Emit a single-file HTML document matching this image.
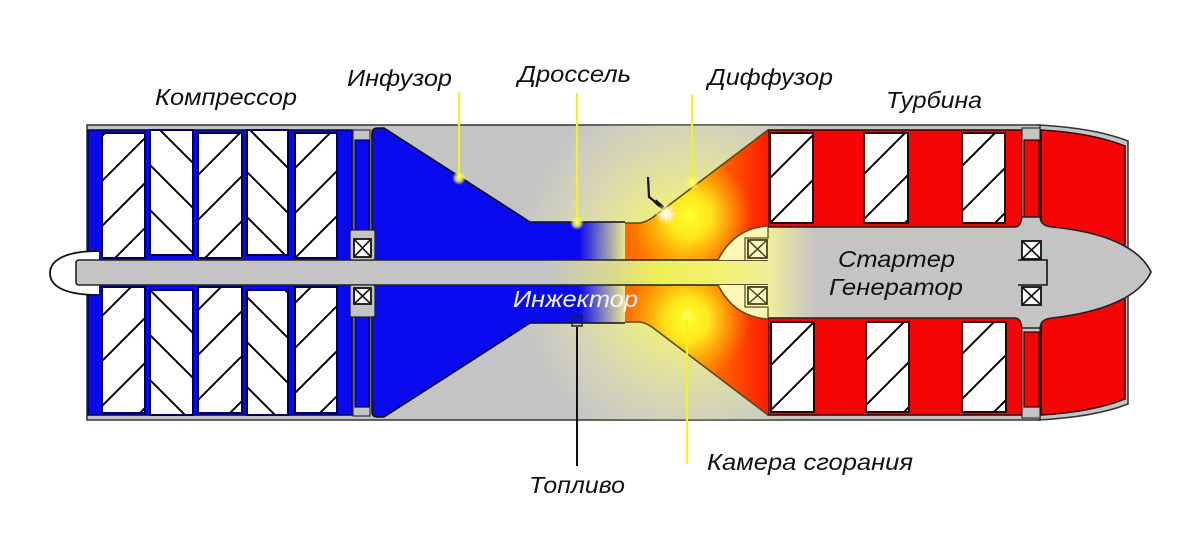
<!DOCTYPE html>
<html><head><meta charset="utf-8">
<style>
html,body{margin:0;padding:0;background:#fff;}
svg{display:block;}
text{font-family:"Liberation Sans","DejaVu Sans",sans-serif;font-style:italic;font-size:23px;fill:#111;}
</style></head><body>
<svg width="1200" height="545" viewBox="0 0 1200 545" xmlns="http://www.w3.org/2000/svg">
<defs>
  <pattern id="ps" width="45" height="45" patternUnits="userSpaceOnUse" patternTransform="translate(13,0)">
    <path d="M-5,5 L5,-5 M0,45 L45,0 M40,50 L50,40" stroke="#000" stroke-width="2"/>
  </pattern>
  <pattern id="pbt" width="45" height="45" patternUnits="userSpaceOnUse" patternTransform="translate(0,15)">
    <path d="M0,0 L45,45 M-5,40 L5,50 M40,-5 L50,5" stroke="#000" stroke-width="2"/>
  </pattern>
  <pattern id="pbb" width="45" height="45" patternUnits="userSpaceOnUse" patternTransform="translate(0,5)">
    <path d="M0,0 L45,45 M-5,40 L5,50 M40,-5 L50,5" stroke="#000" stroke-width="2"/>
  </pattern>
  <pattern id="pt1" width="45" height="45" patternUnits="userSpaceOnUse" patternTransform="translate(3,0)">
    <path d="M-5,5 L5,-5 M0,45 L45,0 M40,50 L50,40" stroke="#000" stroke-width="2"/>
  </pattern>
  <pattern id="pt2" width="45" height="45" patternUnits="userSpaceOnUse" patternTransform="translate(11,0)">
    <path d="M-5,5 L5,-5 M0,45 L45,0 M40,50 L50,40" stroke="#000" stroke-width="2"/>
  </pattern>

  <radialGradient id="glow" gradientUnits="userSpaceOnUse" cx="0" cy="0" r="1" gradientTransform="translate(690,270) scale(175,195)">
    <stop offset="0" stop-color="#ffff40" stop-opacity="0.95"/>
    <stop offset="0.35" stop-color="#ffff60" stop-opacity="0.7"/>
    <stop offset="0.7" stop-color="#ffff90" stop-opacity="0.3"/>
    <stop offset="1" stop-color="#ffffb0" stop-opacity="0"/>
  </radialGradient>

  <linearGradient id="infG" gradientUnits="userSpaceOnUse" x1="372" y1="0" x2="625" y2="0">
    <stop offset="0" stop-color="#0a0aee" stop-opacity="1"/>
    <stop offset="0.82" stop-color="#0a0aee" stop-opacity="1"/>
    <stop offset="1" stop-color="#3030d0" stop-opacity="0"/>
  </linearGradient>

  <linearGradient id="combG" gradientUnits="userSpaceOnUse" x1="625" y1="0" x2="768" y2="0">
    <stop offset="0" stop-color="#ff6a00"/>
    <stop offset="0.4" stop-color="#ff9800"/>
    <stop offset="0.75" stop-color="#ff5200"/>
    <stop offset="1" stop-color="#ff1a00"/>
  </linearGradient>

  <radialGradient id="ySpot" cx="0.5" cy="0.5" r="0.5">
    <stop offset="0" stop-color="#ffff30" stop-opacity="1"/>
    <stop offset="0.35" stop-color="#fff020" stop-opacity="0.9"/>
    <stop offset="1" stop-color="#ffb000" stop-opacity="0"/>
  </radialGradient>

  <radialGradient id="spark" cx="0.5" cy="0.5" r="0.5">
    <stop offset="0" stop-color="#ffffff" stop-opacity="1"/>
    <stop offset="0.4" stop-color="#fff8d0" stop-opacity="0.8"/>
    <stop offset="1" stop-color="#ffe080" stop-opacity="0"/>
  </radialGradient>

  <radialGradient id="dotG" cx="0.5" cy="0.5" r="0.5">
    <stop offset="0" stop-color="#ffffb0" stop-opacity="1"/>
    <stop offset="0.5" stop-color="#ffff40" stop-opacity="0.8"/>
    <stop offset="1" stop-color="#ffff40" stop-opacity="0"/>
  </radialGradient>

  <linearGradient id="shaftG" gradientUnits="userSpaceOnUse" x1="76" y1="0" x2="768" y2="0">
    <stop offset="0" stop-color="#c4c4c4"/>
    <stop offset="0.68" stop-color="#c4c4c4"/>
    <stop offset="0.77" stop-color="#d8d890"/>
    <stop offset="0.84" stop-color="#eeee5a"/>
    <stop offset="0.93" stop-color="#f4f070"/>
    <stop offset="1" stop-color="#eeee98"/>
  </linearGradient>

  <linearGradient id="stG" gradientUnits="userSpaceOnUse" x1="768" y1="0" x2="815" y2="0">
    <stop offset="0" stop-color="#f2ee9a"/>
    <stop offset="1" stop-color="#c4c4c4"/>
  </linearGradient>

  <clipPath id="caseClip"><rect x="87" y="125" width="953" height="295"/></clipPath>
  <clipPath id="combClip">
    <path d="M625,223 L640,223 Q646,222 652,218 L768,130 L768,260 L625,260 Z"/>
    <path d="M625,285 L768,285 L768,415 L652,327 Q646,323 640,322 L625,322 Z"/>
  </clipPath>
</defs>

<rect width="1200" height="545" fill="#fff"/>

<!-- Nozzle outer casing -->
<path d="M1038,125 Q1095,128 1128,141 L1128,404 Q1095,417 1038,420 Z" fill="#c4c4c4" stroke="#333" stroke-width="1.5"/>
<!-- Main casing -->
<rect x="87" y="125" width="953" height="295" fill="#c4c4c4" stroke="#333" stroke-width="1.5"/>

<!-- Glow on casing -->
<g clip-path="url(#caseClip)">
  <ellipse cx="690" cy="270" rx="175" ry="195" fill="url(#glow)"/>
</g>

<!-- Compressor -->
<rect x="88" y="130" width="264" height="285" fill="#0a0aee" stroke="#00005a" stroke-width="1.5"/>
<g stroke="#00005a" stroke-width="2">
  <rect x="102" y="133" width="43" height="125" fill="#fff"/>
  <rect x="150" y="130" width="43" height="125" fill="#fff"/>
  <rect x="198" y="133" width="44" height="125" fill="#fff"/>
  <rect x="247" y="130" width="41" height="125" fill="#fff"/>
  <rect x="295" y="133" width="42" height="125" fill="#fff"/>
  <rect x="102" y="287" width="43" height="126" fill="#fff"/>
  <rect x="150" y="290" width="43" height="125" fill="#fff"/>
  <rect x="198" y="287" width="44" height="126" fill="#fff"/>
  <rect x="247" y="290" width="41" height="125" fill="#fff"/>
  <rect x="295" y="287" width="42" height="126" fill="#fff"/>
</g>
<g>
  <rect x="103" y="134" width="41" height="123" fill="url(#ps)"/>
  <rect x="151" y="131" width="41" height="123" fill="url(#pbt)"/>
  <rect x="199" y="134" width="42" height="123" fill="url(#ps)"/>
  <rect x="248" y="131" width="39" height="123" fill="url(#pbt)"/>
  <rect x="296" y="134" width="40" height="123" fill="url(#ps)"/>
  <rect x="103" y="288" width="41" height="124" fill="url(#ps)"/>
  <rect x="151" y="291" width="41" height="123" fill="url(#pbb)"/>
  <rect x="199" y="288" width="42" height="124" fill="url(#ps)"/>
  <rect x="248" y="291" width="39" height="123" fill="url(#pbb)"/>
  <rect x="296" y="288" width="40" height="124" fill="url(#ps)"/>
</g>

<!-- narrow column -->
<rect x="353" y="130" width="17" height="286" fill="#c4c4c4" stroke="#333" stroke-width="1.2"/>
<rect x="355" y="140" width="14" height="267" fill="#0a0aee" stroke="#00005a" stroke-width="1.2"/>

<!-- Infusor -->
<path d="M372,133 Q372,128 378,128 L384,128 L530,222 L625,222 L625,323 L530,323 L384,417 L378,417 Q372,417 372,412 Z" fill="url(#infG)"/>
<path d="M625,222 L530,222 L384,128 L378,128 Q372,128 372,133 L372,412 Q372,417 378,417 L384,417 L530,323 L625,323" fill="none" stroke="#111" stroke-width="1.6"/>

<!-- Turbine -->
<rect x="768" y="130" width="254" height="285" fill="#f50505" stroke="#300" stroke-width="1.5"/>
<g stroke="#300" stroke-width="2" fill="#fff">
  <rect x="770" y="133" width="43" height="90"/>
  <rect x="864" y="133" width="44" height="90"/>
  <rect x="962" y="133" width="43" height="90"/>
  <rect x="771" y="322" width="43" height="90"/>
  <rect x="866" y="322" width="43" height="90"/>
  <rect x="962" y="322" width="44" height="90"/>
</g>
<g>
  <rect x="771" y="134" width="41" height="88" fill="url(#pt1)"/>
  <rect x="865" y="134" width="42" height="88" fill="url(#pt1)"/>
  <rect x="963" y="134" width="41" height="88" fill="url(#pt1)"/>
  <rect x="772" y="323" width="41" height="88" fill="url(#pt2)"/>
  <rect x="867" y="323" width="41" height="88" fill="url(#pt2)"/>
  <rect x="963" y="323" width="42" height="88" fill="url(#pt2)"/>
</g>

<!-- gap column -->
<rect x="1022" y="128" width="18" height="290" fill="#c4c4c4" stroke="#333" stroke-width="1.2"/>
<rect x="1024" y="140" width="15" height="77" fill="#f50505" stroke="#300" stroke-width="1.2"/>
<rect x="1024" y="332" width="15" height="75" fill="#f50505" stroke="#300" stroke-width="1.2"/>

<!-- Nozzle red -->
<path d="M1041,130 Q1092,133 1125,146 L1125,399 Q1092,412 1041,415 Z" fill="#f50505" stroke="#300" stroke-width="1.5"/>

<!-- Starter body -->
<path d="M768,227 L1014,227 Q1020,227 1021,221 L1022,217 L1040,217 L1041,221 Q1043,226 1052,227 C1105,232 1140,248 1151,272 C1140,296 1105,312 1052,318 Q1043,319 1041,324 L1040,328 L1022,328 L1021,324 Q1020,318 1014,318 L768,318 Z" fill="url(#stG)"/>
<path d="M768,227 L1014,227 Q1020,227 1021,221 L1022,217 L1040,217 L1041,221 Q1043,226 1052,227 C1105,232 1140,248 1151,272 C1140,296 1105,312 1052,318 Q1043,319 1041,324 L1040,328 L1022,328 L1021,324 Q1020,318 1014,318 L768,318" fill="none" stroke="#222" stroke-width="1.6"/>

<!-- right bearings + stub -->
<g stroke="#111" stroke-width="1.8" fill="#fff">
  <rect x="1022" y="241" width="19" height="18"/>
  <rect x="1022" y="287" width="19" height="18"/>
</g>
<path d="M1022,241 L1041,259 M1041,241 L1022,259 M1022,287 L1041,305 M1041,287 L1022,305" stroke="#111" stroke-width="1.6"/>
<path d="M1018,260 L1047,260 L1047,285 L1018,285" fill="none" stroke="#111" stroke-width="1.6"/>

<!-- Combustion chamber -->
<g clip-path="url(#combClip)">
  <rect x="620" y="125" width="150" height="295" fill="url(#combG)"/>
  <circle cx="690" cy="216" r="62" fill="url(#ySpot)"/>
  <circle cx="688" cy="320" r="62" fill="url(#ySpot)"/>
</g>
<path d="M625,223 L640,223 Q646,222 652,218 L768,130" fill="none" stroke="#5a4a10" stroke-width="1.6"/>
<path d="M625,322 L640,322 Q646,323 652,327 L768,415" fill="none" stroke="#5a4a10" stroke-width="1.6"/>

<!-- Shaft -->
<rect x="76" y="260" width="692" height="25" fill="url(#shaftG)"/>
<path d="M768,260 L79,260 Q76,260 76,263 L76,282 Q76,285 79,285 L768,285" fill="none" stroke="#222" stroke-width="1.6"/>

<!-- Nose -->
<path d="M99,251 C62,251 50,262 50,273 C50,285 62,295 99,295 L99,285 L76,285 L76,260 L99,260 Z" fill="#fff"/>
<path d="M99,251 C62,251 50,262 50,273 C50,285 62,295 99,295" fill="none" stroke="#111" stroke-width="1.8"/>
<rect x="76" y="260" width="24" height="25" fill="#c4c4c4"/>
<path d="M100,260 L79,260 Q76,260 76,263 L76,282 Q76,285 79,285 L100,285" fill="none" stroke="#222" stroke-width="1.6"/>

<!-- left bearing housings -->
<rect x="350" y="230" width="25" height="30" rx="2" fill="#c4c4c4" stroke="#222" stroke-width="1.3"/>
<rect x="350" y="285" width="25" height="32" rx="2" fill="#c4c4c4" stroke="#222" stroke-width="1.3"/>
<g stroke="#111" stroke-width="1.8" fill="#fff">
  <rect x="354" y="239" width="17" height="18"/>
  <rect x="354" y="288" width="17" height="16"/>
</g>
<path d="M354,239 L371,257 M371,239 L354,257 M354,288 L371,304 M371,288 L354,304" stroke="#111" stroke-width="1.6"/>

<!-- Dome -->
<path d="M768,226 Q734,228 718,260 L768,260 Z" fill="#fcf7b4"/>
<path d="M768,319 Q734,317 718,285 L768,285 Z" fill="#fcf7b4"/>
<path d="M768,226 Q734,228 718,260" fill="none" stroke="#5a5020" stroke-width="1.6"/>
<path d="M768,319 Q734,317 718,285" fill="none" stroke="#5a5020" stroke-width="1.6"/>
<path d="M768,227 L768,238 L745,238 L745,260 M768,318 L768,307 L745,307 L745,285" fill="none" stroke="#5a5020" stroke-width="1.3"/>
<g stroke="#4a4418" stroke-width="1.8" fill="#fdf8c8">
  <rect x="748" y="240" width="19" height="18"/>
  <rect x="748" y="287" width="19" height="17"/>
</g>
<path d="M748,240 L767,258 M767,240 L748,258 M748,287 L767,304 M767,287 L748,304" stroke="#4a4418" stroke-width="1.5"/>

<!-- Leader lines (yellow) -->
<g stroke="#f2f226" stroke-width="2.2">
  <line x1="459" y1="92" x2="459" y2="178"/>
  <line x1="577" y1="93" x2="577" y2="223"/>
  <line x1="692" y1="95" x2="692" y2="183"/>
  <line x1="687" y1="316" x2="687" y2="464"/>
</g>
<circle cx="459" cy="178" r="7" fill="url(#dotG)"/>
<circle cx="577" cy="223" r="7" fill="url(#dotG)"/>
<circle cx="692" cy="183" r="7" fill="url(#dotG)"/>
<circle cx="687" cy="314" r="7" fill="url(#dotG)"/>

<!-- Fuel line + injector -->
<line x1="577" y1="327" x2="577" y2="466" stroke="#111" stroke-width="2"/>
<rect x="572" y="316" width="10" height="10" fill="none" stroke="#222" stroke-width="1.5"/>

<!-- Spark plug -->
<polyline points="648,177 649,197 658,204" fill="none" stroke="#111" stroke-width="2.2"/>
<path d="M655,201 L663,208" stroke="#111" stroke-width="4"/>
<circle cx="666" cy="214" r="11" fill="url(#spark)"/>
<path d="M656,214 L676,214 M666,205 L666,223 M659,207 L673,221 M673,207 L659,221" stroke="#fff" stroke-width="0.8" opacity="0.8"/>

<!-- Labels -->
<text x="155" y="105" textLength="142" lengthAdjust="spacingAndGlyphs">Компрессор</text>
<text x="347" y="86" textLength="105" lengthAdjust="spacingAndGlyphs">Инфузор</text>
<text x="518" y="82" textLength="113" lengthAdjust="spacingAndGlyphs">Дроссель</text>
<text x="708" y="85" textLength="125" lengthAdjust="spacingAndGlyphs">Диффузор</text>
<text x="886" y="108" textLength="96" lengthAdjust="spacingAndGlyphs">Турбина</text>
<text x="707" y="470" textLength="206" lengthAdjust="spacingAndGlyphs">Камера сгорания</text>
<text x="529" y="493" textLength="96" lengthAdjust="spacingAndGlyphs">Топливо</text>
<text x="513" y="307" textLength="125" lengthAdjust="spacingAndGlyphs" style="fill:#f4f4ff">Инжектор</text>
<text x="838" y="267" textLength="117" lengthAdjust="spacingAndGlyphs">Стартер</text>
<text x="829" y="295" textLength="134" lengthAdjust="spacingAndGlyphs">Генератор</text>
</svg>
</body></html>
